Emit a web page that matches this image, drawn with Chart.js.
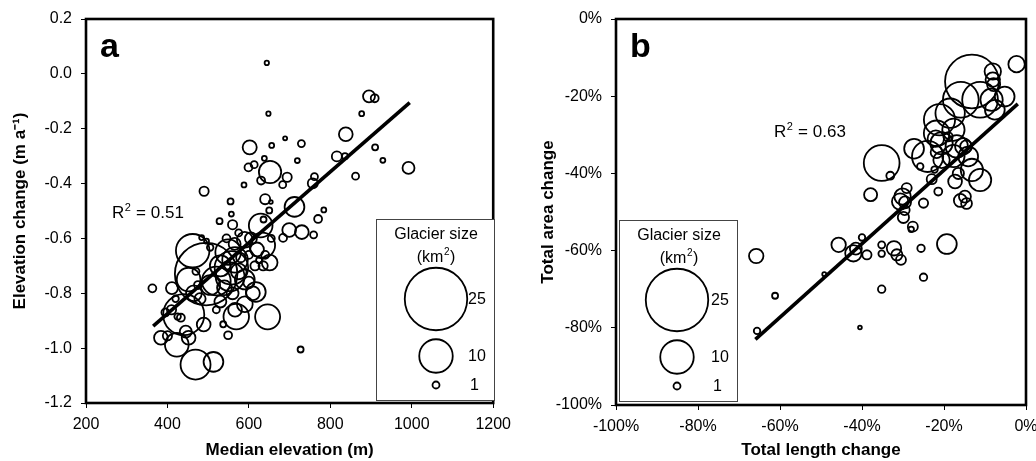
<!DOCTYPE html>
<html><head><meta charset="utf-8">
<script src="https://cdn.jsdelivr.net/npm/chart.js@4.4.0/dist/chart.umd.min.js"></script>
<style>
html,body{margin:0;padding:0;background:#fff;overflow:hidden;}
#wrap{position:relative;width:1036px;height:461px;overflow:hidden;}
canvas{position:absolute;top:0;}
#ca{left:0}
#cb{left:518px}
</style></head><body>
<div id="wrap"><canvas id="ca" width="518" height="461"></canvas><canvas id="cb" width="530" height="461"></canvas></div>
<script>
// ---------- Panel a data: median elevation (m), elevation change (m a-1), glacier size (km2)
const elevA = [644,648,656,689,729,719,602,599,613,638,630,652,683,694,761,757,588,490,640,654,555,650,712,784,770,636,528,557,629,699,730,759,684,816,838,836,877,895,909,910,929,862,992,727,363,537,549,646,
  411,452,462,495,566,554,590,617,633,566,569,384,423,452,469,513,489,433,440,590,651,484,496,505,549,557,530,505,520,540,575,600,615,620,600,605,640,625,410,425,395,465,475,480,530,520,560,545,580,565,575,560,610,470,445,400,635,655,590,545,420];
const dhA = [0.04,-0.145,-0.261,-0.235,-0.254,-0.316,-0.268,-0.341,-0.331,-0.308,-0.389,-0.358,-0.404,-0.377,-0.375,-0.399,-0.405,-0.428,-0.457,-0.467,-0.465,-0.498,-0.485,-0.496,-0.529,-0.531,-0.537,-0.511,-0.553,-0.569,-0.577,-0.587,-0.598,-0.301,-0.220,-0.300,-0.145,-0.082,-0.089,-0.268,-0.315,-0.373,-0.343,-1.005,-0.782,-0.913,-0.953,-0.886,
  -0.781,-0.75,-0.645,-0.73,-0.678,-0.74,-0.75,-0.795,-0.625,-0.86,-0.885,-0.962,-0.988,-0.962,-1.06,-1.05,-0.914,-0.889,-0.878,-0.605,-0.688,-0.597,-0.61,-0.633,-0.65,-0.707,-0.70,-0.77,-0.755,-0.78,-0.72,-0.76,-0.70,-0.64,-0.66,-0.60,-0.66,-0.68,-0.86,-0.885,-0.87,-0.80,-0.77,-0.82,-0.83,-0.86,-0.80,-0.70,-0.67,-0.62,-0.58,-0.55,-0.80,-0.72,-0.94,-0.955,-0.70,-0.60,-0.84,-0.60,-0.82];
const sizeA = [0.5,0.5,0.6,0.45,1.0,0.6,2.8,1.2,1.0,0.6,1.2,5.5,1.0,1.5,1.0,1.7,0.6,1.5,1.7,0.4,0.8,0.8,4.6,0.6,1.2,0.8,0.8,0.6,6.0,2.7,2.7,1.0,1.2,1.7,2.7,0.8,0.6,2.2,1.2,0.8,0.6,1.0,2.2,0.8,1.2,0.8,1.2,6.5,
  2.2,6.0,10,25,6.7,8,4.6,4.6,6.7,2.7,6.7,2.7,6.0,2.7,8.5,4.6,2.7,1.2,13.5,3.3,3.3,0.6,0.6,0.9,6.7,10,5,4.6,8,3,3.3,2,1.5,2.7,1.2,2.2,1.2,0.8,1.5,0.9,1.2,3.3,1.2,2,2.2,1.0,2.2,1.2,1.5,2.2,1.0,1.5,2.7,1.0,2.2,1.5,1.5,1.0,3.3,1.2,0.9];
const fitAx = [365, 995];
const fitAy = [-0.92, -0.105];
const xTicksA = [200,400,600,800,1000,1200];
const yTicksA = [0.2,0.0,-0.2,-0.4,-0.6,-0.8,-1.0,-1.2];

// ---------- Panel b data: total length change (%), total area change (%), glacier size (km2)
const lenB = [-65.8,-61.2,-65.6,-49.2,-40.5,-45.7,-42.1,-41.5,-40.0,-38.8,-35.2,-35.2,-35.2,-32.2,-31.5,-30.5,-25.6,-25.0,-19.3,-37.9,-33.1,-35.2,-30.1,-30.7,-29.1,-29.9,-29.5,-29.6,-27.6,-28.0,-25.0,-27.3,-25.8,-24.0,-22.3,-23.0,-21.4,-21.1,-21.8,-20.6,-20.6,-21.8,-18.5,-17.7,-16.9,-17.7,-17.3,-15.3,-14.1,-14.6,-13.2,-11.2,-14.9,-14.5,-16.0,-15.9,-13.2,-11.2,-8.1,-8.1,-7.9,-5.2,-8.4,-7.6,-2.3,-16.5,-19.0,-22.0];
const areaB = [-61.4,-71.7,-80.8,-66.1,-79.9,-58.5,-60.7,-59.5,-56.6,-61.1,-58.5,-60.8,-70.0,-59.4,-61.1,-62.4,-59.4,-66.9,-58.3,-45.5,-40.6,-37.3,-46.0,-47.3,-43.8,-51.4,-47.5,-49.5,-53.8,-54.5,-47.7,-33.6,-38.2,-35.6,-39.0,-41.5,-44.7,-26.1,-29.6,-32.2,-36.5,-34.5,-24.4,-28.7,-33.0,-35.5,-42.1,-33.0,-35.6,-33.0,-39.1,-41.7,-46.0,-47.8,-47.0,-20.9,-16.2,-20.9,-13.6,-15.7,-17.0,-20.1,-20.9,-23.5,-11.7,-40.0,-30.5,-31.0];
const sizeB = [2.9,0.8,0.9,0.45,0.4,2.9,3.5,2.2,0.9,1.5,1.0,0.9,1.1,2.9,2.0,1.7,1.1,1.1,4.6,2.5,1.2,11,3.5,3.5,1.7,2.0,2.2,1.7,1.7,0.7,1.5,4.6,0.9,9,0.9,1.7,1.2,9,6.7,5.5,3.5,2.2,8.25,5.5,5.5,5.5,2.7,3.5,4.6,2.2,5.5,5.5,2.2,1.9,2.5,11,20,11,3.5,2.9,2.5,4.6,5.5,4.6,3.5,2.0,1.5,3.5];
const fitBx = [-66, -2];
const fitBy = [-83, -22];
const xTicksB = [-100,-80,-60,-40,-20,0];
const yTicksB = [0,-20,-40,-60,-80,-100];

const legendSizes = [25, 10, 1];

// ---------- helpers
const FONT = "'Liberation Sans', Arial, Helvetica, sans-serif";
Chart.defaults.font.family = FONT;
Chart.defaults.color = '#000';
// do not reserve extra room around the plot for bubble radii
Chart.registry.getController('bubble').prototype.getMaxOverflow = function(){ return 0; };

function sizeToR(a){ return 3.5 * Math.pow(a, 0.68); }
function bubbles(xs, ys, ss){ return xs.map((x,i)=>({x:x, y:ys[i], r:sizeToR(ss[i])})); }
function line(xs, ys){ return xs.map((x,i)=>({x:x, y:ys[i]})); }

function drawSup(ctx, x, y, base, sup, rest, size){
  ctx.font = size + 'px ' + FONT;
  ctx.textAlign = 'left'; ctx.textBaseline = 'alphabetic';
  ctx.fillText(base, x, y);
  let w = ctx.measureText(base).width;
  ctx.font = Math.round(size*0.62) + 'px ' + FONT;
  ctx.fillText(sup, x + w + 0.5, y - size*0.42);
  let w2 = ctx.measureText(sup).width;
  ctx.font = size + 'px ' + FONT;
  ctx.fillText(rest, x + w + w2 + 1, y);
  return w + w2 + 1 + ctx.measureText(rest).width;
}
function drawCenteredSup(ctx, cx, y, base, sup, rest, size){
  ctx.font = size + 'px ' + FONT;
  const w1 = ctx.measureText(base).width + ctx.measureText(rest).width + 1;
  ctx.font = Math.round(size*0.62) + 'px ' + FONT;
  const w2 = ctx.measureText(sup).width;
  drawSup(ctx, cx - (w1+w2)/2, y, base, sup, rest, size);
}

function overlayPlugin(cfg){
  return {
    id: 'overlay',
    afterDatasetsDraw(chart){
      const ctx = chart.ctx, a = chart.chartArea;
      ctx.save();
      ctx.strokeStyle = '#000'; ctx.lineWidth = 2.6;
      ctx.strokeRect(a.left, a.top, a.right - a.left, a.bottom - a.top);
      ctx.fillStyle = '#000';
      ctx.font = 'bold 34px ' + FONT; ctx.textAlign = 'left'; ctx.textBaseline = 'alphabetic';
      ctx.fillText(cfg.letter, cfg.letterX, 57);
      drawSup(ctx, cfg.r2X, cfg.r2Y, 'R', '2', ' = ' + cfg.r2, 17);
      const L = cfg.legend;
      ctx.fillStyle = '#fff';
      ctx.fillRect(L.x, L.y, L.w, L.h);
      ctx.strokeStyle = '#444'; ctx.lineWidth = 1;
      ctx.strokeRect(L.x + 0.5, L.y + 0.5, L.w, L.h);
      ctx.fillStyle = '#000';
      ctx.font = '16px ' + FONT; ctx.textAlign = 'center'; ctx.textBaseline = 'alphabetic';
      ctx.fillText('Glacier size', L.x + L.w/2 + 1, L.y + 20);
      drawCenteredSup(ctx, L.x + L.w/2 + 1, L.y + 43, '(km', '2', ')', 16);
      ctx.strokeStyle = '#000'; ctx.lineWidth = 1.8;
      legendSizes.forEach((s, i) => {
        const cy = L.y + L.cy[i];
        ctx.beginPath(); ctx.arc(L.cx, cy, sizeToR(s), 0, Math.PI*2); ctx.stroke();
        ctx.font = '16px ' + FONT; ctx.textAlign = 'left'; ctx.textBaseline = 'middle';
        ctx.fillText(String(s), L.lx + (s === 1 ? 2 : 0), cy + 1);
      });
      ctx.restore();
    }
  };
}

function makeChart(id, o){
  const chart = new Chart(document.getElementById(id), {
    type: 'bubble',
    data: { datasets: [
      { data: bubbles(o.xs, o.ys, o.ss), backgroundColor: 'rgba(0,0,0,0)', borderColor: '#000', borderWidth: 1.8, hoverRadius: 0, hoverBorderWidth: 1.8, clip: false },
      { type: 'line', data: line(o.fx, o.fy), borderColor: '#000', borderWidth: 3.6, pointRadius: 0, fill: false, tension: 0 }
    ]},
    options: {
      responsive: false, animation: false, devicePixelRatio: 1,
      events: [],
      layout: { padding: { top: 19, right: o.padRight, left: 0, bottom: 0 } },
      plugins: { legend: { display: false }, tooltip: { enabled: false } },
      scales: {
        x: {
          type: 'linear', min: o.xTicks[0], max: o.xTicks[o.xTicks.length-1],
          afterBuildTicks(s){ s.ticks = o.xTicks.map(v => ({value: v})); },
          afterFit(s){ s.height = o.xH; },
          ticks: { color: '#000', font: { size: 16 }, padding: 7, maxRotation: 0, autoSkip: false, callback: o.xFmt },
          grid: { drawOnChartArea: false, drawTicks: true, tickLength: 5, tickColor: '#000', color: '#000', lineWidth: 1 },
          border: { display: false },
          title: { display: true, text: o.xTitle, color: '#000', font: { size: 17, weight: 'bold' }, padding: { top: 0, bottom: 0 } }
        },
        y: {
          type: 'linear', min: o.yTicks[o.yTicks.length-1], max: o.yTicks[0],
          afterBuildTicks(s){ s.ticks = o.yTicks.map(v => ({value: v})); },
          afterFit(s){ s.width = o.yW; },
          ticks: { color: '#000', font: { size: 16 }, padding: 9, autoSkip: false, callback: o.yFmt },
          grid: { drawOnChartArea: false, drawTicks: true, tickLength: 5, tickColor: '#000', color: '#000', lineWidth: 1 },
          border: { display: false },
          title: { display: true, text: o.yTitle, color: '#000', font: { size: 17, weight: 'bold' }, padding: { top: o.yTitlePad, bottom: 0 } }
        }
      }
    },
    plugins: [overlayPlugin(o.overlay)]
  });
  // nudge layout padding so the plot frame lands where the reference has it
  for (let k = 0; k < 4; k++) {
    const a = chart.chartArea;
    const p = Object.assign({}, chart.options.layout.padding);
    const dt = o.area.top - a.top, dr = a.right - o.area.right, db = a.bottom - o.area.bottom;
    if (Math.abs(dt) < 0.5 && Math.abs(dr) < 0.5 && Math.abs(db) < 0.5) break;
    p.top = (p.top || 0) + dt; p.right = (p.right || 0) + dr; p.bottom = (p.bottom || 0) + db;
    chart.options.layout.padding = p;
    chart.update();
  }
}

makeChart('ca', {
  xs: elevA, ys: dhA, ss: sizeA, fx: fitAx, fy: fitAy,
  xTicks: xTicksA, yTicks: yTicksA,
  xFmt: v => String(v), yFmt: v => (Math.abs(v) < 1e-9 ? '0.0' : Number(v).toFixed(1)),
  xTitle: 'Median elevation (m)', yTitle: 'Elevation change (m a\u207B\u00B9)',
  padRight: 20, xH: 58, yW: 86, yTitlePad: 10,
  area: { top: 19, right: 498, bottom: 403 },
  overlay: { letter: 'a', letterX: 100, r2: '0.51', r2X: 112, r2Y: 218,
    legend: { x: 376, y: 219, w: 118, h: 181, cx: 436, lx: 468, cy: [80, 137, 166] } }
});

makeChart('cb', {
  xs: lenB, ys: areaB, ss: sizeB, fx: fitBx, fy: fitBy,
  xTicks: xTicksB, yTicks: yTicksB,
  xFmt: v => Math.round(v) + '%', yFmt: v => Math.round(v) + '%',
  xTitle: 'Total length change', yTitle: 'Total area change',
  padRight: 22, xH: 56, yW: 98, yTitlePad: 20,
  area: { top: 19, right: 508, bottom: 405 },
  overlay: { letter: 'b', letterX: 112, r2: '0.63', r2X: 256, r2Y: 137,
    legend: { x: 101, y: 220, w: 118, h: 181, cx: 159, lx: 193, cy: [80, 137, 166] } }
});
</script>
</body></html>
